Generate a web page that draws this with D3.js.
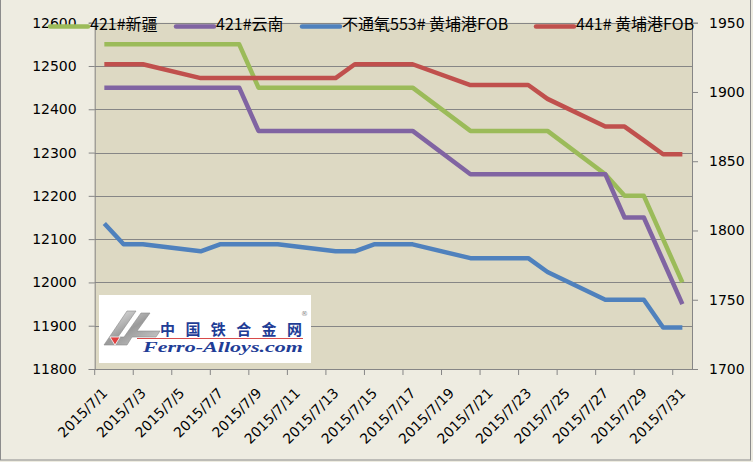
<!DOCTYPE html>
<html>
<head>
<meta charset="utf-8">
<script src="https://cdn.jsdelivr.net/npm/d3@7"></script>
<style>
  body { margin: 0; background: #EEECE1; }
  svg { display: block; }
</style>
</head>
<body>
<div id="chart"></div>
<script>
// days shown on the category axis
var days = d3.range(1, 32).map(function(d) { return "2015/7/" + d; });

// trading days that have a price (weekends are skipped, the line joins across them)
var tradeDays = ["2015/7/1", "2015/7/2", "2015/7/3", "2015/7/6", "2015/7/7", "2015/7/8",
  "2015/7/9", "2015/7/10", "2015/7/13", "2015/7/14", "2015/7/15", "2015/7/16", "2015/7/17",
  "2015/7/20", "2015/7/21", "2015/7/22", "2015/7/23", "2015/7/24", "2015/7/27", "2015/7/28",
  "2015/7/29", "2015/7/30", "2015/7/31"];

// left axis (yuan)
var xinjiang421 = [12550, 12550, 12550, 12550, 12550, 12550, 12450, 12450, 12450, 12450, 12450, 12450,
  12450, 12350, 12350, 12350, 12350, 12350, 12250, 12200, 12200, 12100, 12000];
var yunnan421 = [12450, 12450, 12450, 12450, 12450, 12450, 12350, 12350, 12350, 12350, 12350, 12350,
  12350, 12250, 12250, 12250, 12250, 12250, 12250, 12150, 12150, 12050, 11950];

// right axis (FOB)
var fob553 = [1805, 1790, 1790, 1785, 1790, 1790, 1790, 1790, 1785, 1785, 1790, 1790,
  1790, 1780, 1780, 1780, 1780, 1770, 1750, 1750, 1750, 1730, 1730];
var fob441 = [1920, 1920, 1920, 1910, 1910, 1910, 1910, 1910, 1910, 1920, 1920, 1920,
  1920, 1905, 1905, 1905, 1905, 1895, 1875, 1875, 1865, 1855, 1855];

var leftTicks = [11800, 11900, 12000, 12100, 12200, 12300, 12400, 12500, 12600];
var rightTicks = [1700, 1750, 1800, 1850, 1900, 1950];

var seriesNames = ["421#新疆", "421#云南", "不通氧553# 黄埔港FOB", "441# 黄埔港FOB"];
var colors = ["#9BBB59", "#8064A2", "#4F81BD", "#C0504D"];

var width = 753, height = 462;
var plot = {left: 94.7, right: 692, top: 22.7, bottom: 369};

var svg = d3.select("#chart")
  .append("svg")
  .attr("width", width)
  .attr("height", height);

// chart background and frame
svg.append("rect")
  .attr("x", 0.5).attr("y", -2)
  .attr("width", 750).attr("height", 462)
  .attr("fill", "#EEECE1")
  .attr("stroke", "#8c8c8c");

svg.append("rect")
  .attr("x", plot.left).attr("y", plot.top)
  .attr("width", plot.right - plot.left).attr("height", plot.bottom - plot.top)
  .attr("fill", "#DDD9C3");

// scales
var x = d3.scaleBand()
  .domain(days)
  .range([plot.left, plot.right]);

var yL = d3.scaleLinear()
  .domain([11800, 12600])
  .range([plot.bottom, plot.top]);

var yR = d3.scaleLinear()
  .domain([1700, 1950])
  .range([plot.bottom, plot.top]);

// gridlines
svg.append("g")
  .selectAll("line")
  .data(leftTicks)
  .enter()
  .append("line")
  .attr("x1", plot.left).attr("x2", plot.right)
  .attr("y1", function(d) { return Math.round(yL(d)) + 0.5; })
  .attr("y2", function(d) { return Math.round(yL(d)) + 0.5; })
  .attr("stroke", "#868686");

// left axis
var leftAxis = svg.append("g")
  .attr("transform", "translate(" + plot.left + ",0)")
  .call(d3.axisLeft(yL).tickValues(leftTicks).tickSize(6).tickPadding(12).tickFormat(d3.format("d")));

// right axis
var rightAxis = svg.append("g")
  .attr("transform", "translate(" + plot.right + ",0)")
  .call(d3.axisRight(yR).tickValues(rightTicks).tickSize(6).tickPadding(11).tickFormat(d3.format("d")));

// bottom axis, ticks on every second category boundary
var bottomAxis = svg.append("g")
  .attr("transform", "translate(0," + plot.bottom + ")");

bottomAxis.append("line")
  .attr("x1", plot.left).attr("x2", plot.right)
  .attr("y1", 0.5).attr("y2", 0.5)
  .attr("stroke", "#868686");

bottomAxis.selectAll(".tick")
  .data(days.filter(function(d, i) { return i % 2 == 0; }))
  .enter()
  .append("line")
  .attr("class", "tick")
  .attr("x1", function(d) { return x(d); })
  .attr("x2", function(d) { return x(d); })
  .attr("y1", 0).attr("y2", 6)
  .attr("stroke", "#868686");

bottomAxis.selectAll(".xlabel")
  .data(days.filter(function(d, i) { return i % 2 == 0; }))
  .enter()
  .append("text")
  .attr("class", "xlabel")
  .attr("transform", function(d) {
    return "translate(" + (x(d) + x.bandwidth() / 2 + 4) + ",25) rotate(-45)";
  })
  .attr("text-anchor", "end")
  .attr("font-family", "DejaVu Sans")
  .attr("font-size", 14)
  .attr("fill", "#000")
  .text(function(d) { return d; });

[leftAxis, rightAxis].forEach(function(a) {
  a.select(".domain").attr("stroke", "#868686");
  a.selectAll(".tick line").attr("stroke", "#868686");
  a.selectAll("text")
    .attr("font-family", "DejaVu Sans")
    .attr("font-size", 14)
    .attr("fill", "#000");
});

// watermark logo
var logo = svg.append("g");
logo.append("rect")
  .attr("x", 99).attr("y", 295)
  .attr("width", 212).attr("height", 68)
  .attr("fill", "#fff");

var grad = svg.append("defs").append("linearGradient")
  .attr("id", "silver")
  .attr("x1", 0).attr("y1", 0).attr("x2", 1).attr("y2", 1);
grad.append("stop").attr("offset", "0%").attr("stop-color", "#f2f2f2");
grad.append("stop").attr("offset", "50%").attr("stop-color", "#9a9a9a");
grad.append("stop").attr("offset", "100%").attr("stop-color", "#d0d0d0");

logo.append("path")
  .attr("d", "M104,345 L127,311 L136,311 L118,337 L124,337 L141,313 L150,313 L137,331 L160,331 L156,337 L132,337 L127,345 Z")
  .attr("fill", "url(#silver)")
  .attr("stroke", "#8a8a8a")
  .attr("stroke-width", 0.6);
logo.append("path")
  .attr("d", "M110,337 L120,337 L115,345 Z")
  .attr("fill", "#e04040")
  .attr("stroke", "#fff")
  .attr("stroke-width", 0.8);

logo.append("text")
  .attr("x", 160).attr("y", 335)
  .attr("textLength", 142)
  .attr("lengthAdjust", "spacing")
  .attr("font-family", "Noto Sans CJK SC")
  .attr("font-weight", "bold")
  .attr("font-size", 15)
  .attr("fill", "#1f3d96")
  .text("中国铁合金网");

logo.append("line")
  .attr("x1", 137).attr("x2", 303)
  .attr("y1", 338.5).attr("y2", 338.5)
  .attr("stroke", "#d84a4a")
  .attr("stroke-width", 1.2);

logo.append("text")
  .attr("x", 143).attr("y", 352)
  .attr("textLength", 160)
  .attr("lengthAdjust", "spacingAndGlyphs")
  .attr("font-family", "Liberation Serif")
  .attr("font-style", "italic")
  .attr("font-weight", "bold")
  .attr("font-size", 14)
  .attr("fill", "#1f3d96")
  .text("Ferro-Alloys.com");

logo.append("text")
  .attr("x", 301).attr("y", 316)
  .attr("font-family", "DejaVu Sans")
  .attr("font-size", 7)
  .attr("fill", "#888")
  .text("®");

// build the series from the arrays
var series = [
  {name: seriesNames[0], values: xinjiang421, y: yL, color: colors[0]},
  {name: seriesNames[1], values: yunnan421, y: yL, color: colors[1]},
  {name: seriesNames[2], values: fob553, y: yR, color: colors[2]},
  {name: seriesNames[3], values: fob441, y: yR, color: colors[3]}
];

series.forEach(function(s) {
  var pts = tradeDays.map(function(d, i) { return {day: d, value: s.values[i]}; });
  svg.append("path")
    .datum(pts)
    .attr("fill", "none")
    .attr("stroke", s.color)
    .attr("stroke-width", 4.5)
    .attr("stroke-linejoin", "round")
    .attr("d", d3.line()
      .x(function(d) { return x(d.day) + x.bandwidth() / 2; })
      .y(function(d) { return s.y(d.value); })
    );
});

// legend along the top
var legendX = [50, 176, 302, 536];
var legend = svg.append("g")
  .selectAll("g")
  .data(series)
  .enter()
  .append("g")
  .attr("transform", function(d, i) { return "translate(" + legendX[i] + ",0)"; });

legend.append("line")
  .attr("x1", 0).attr("x2", 38)
  .attr("y1", 26.5).attr("y2", 26.5)
  .attr("stroke", function(d) { return d.color; })
  .attr("stroke-width", 4.5)
  .attr("stroke-linecap", "round");

legend.append("text")
  .attr("x", 40).attr("y", 30)
  .attr("font-family", "Noto Sans CJK SC")
  .attr("font-size", 16)
  .attr("fill", "#000")
  .text(function(d) { return d.name; });
</script>
</body>
</html>
